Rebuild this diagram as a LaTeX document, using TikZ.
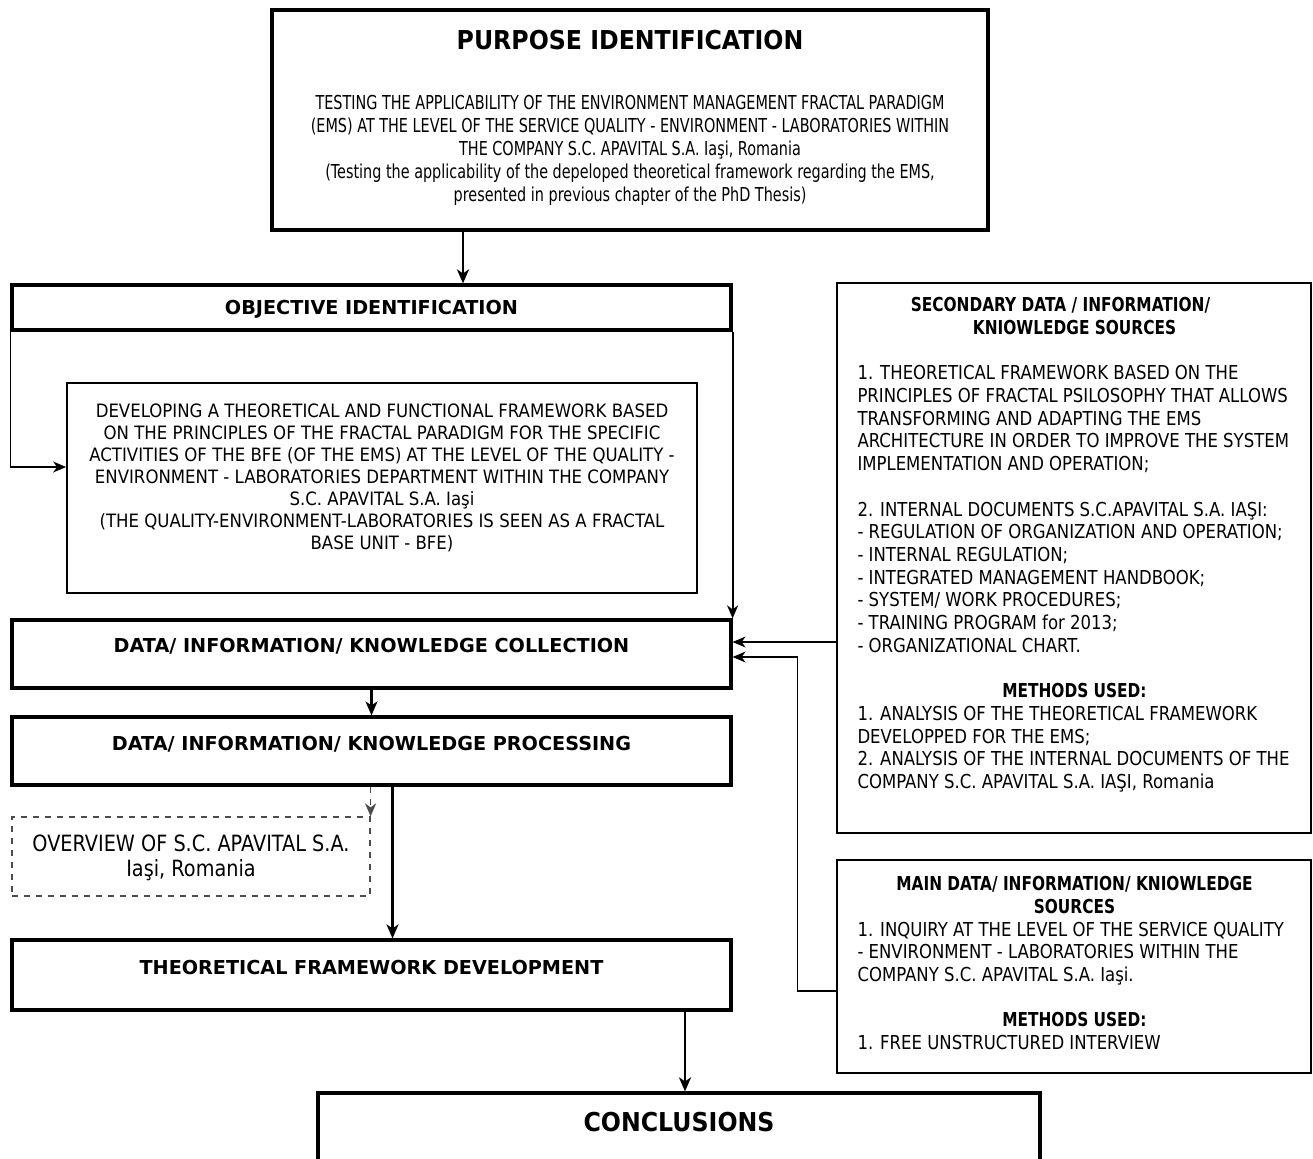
\documentclass[tikz,border=0pt]{standalone}
\usepackage{fontspec}
\setmainfont{DejaVu Sans}
\newfontfamily\purposefont[FakeStretch=0.75]{DejaVu Sans}
\newfontfamily\narrowfont[FakeStretch=0.86]{DejaVu Sans}
\newfontfamily\goalfont[FakeStretch=0.9]{DejaVu Sans}
\newfontfamily\headfont[FakeStretch=0.8]{DejaVu Sans}
\newfontfamily\bigfont[FakeStretch=0.91]{DejaVu Sans}
\usetikzlibrary{positioning,arrows.meta,fit}

\begin{document}
\begin{tikzpicture}[x=0.5pt,y=-0.5pt,
  font=\narrowfont\fontsize{9.6}{11.35}\selectfont,
  stagebox/.style={draw,line width=1.6pt,inner sep=0pt},
  thinbox/.style={draw,line width=0.9pt,inner sep=0pt},
  srcbox/.style={draw,line width=0.9pt,inner sep=0pt},
  boxtitle/.style={font=\fontsize{9.6}{11}\selectfont\bfseries},
  bigtitle/.style={font=\bigfont\fontsize{13}{15}\selectfont\bfseries},
  texte/.style={align=center,inner sep=0pt},
  flow/.style={-{Stealth[length=7pt,width=6pt,inset=2pt]},line width=1.4pt},
  link/.style={-{Stealth[length=6.5pt,width=5.5pt,inset=2pt]},line width=0.8pt}]
\useasboundingbox[fill=white] (0,0) rectangle (1313,1158);
% left column
\node[stagebox,fit={(272,10) (988,230)}] (purpose) {};
\node[bigtitle] at ([yshift=-16pt]purpose.north) {PURPOSE IDENTIFICATION};
\node[texte,font=\purposefont\fontsize{9.6}{11.5}\selectfont] at ([yshift=-71pt]purpose.north) {TESTING THE APPLICABILITY OF THE ENVIRONMENT MANAGEMENT FRACTAL PARADIGM\\(EMS) AT THE LEVEL OF THE SERVICE QUALITY - ENVIRONMENT - LABORATORIES WITHIN\\THE COMPANY S.C. APAVITAL S.A. Iaşi, Romania\\(Testing the applicability of the depeloped theoretical framework regarding the EMS,\\presented in previous chapter of the PhD Thesis)};
\node[stagebox,fit={(12,285) (731,330)}] (objective) {};
\node[boxtitle] at ([yshift=-1pt]objective.center) {OBJECTIVE IDENTIFICATION};
\node[thinbox,fit={(67,383) (697,593)}] (goal) {};
\node[texte,font=\goalfont\fontsize{9.2}{11}\selectfont] at ([yshift=-48pt]goal.north) {DEVELOPING A THEORETICAL AND FUNCTIONAL FRAMEWORK BASED\\ON THE PRINCIPLES OF THE FRACTAL PARADIGM FOR THE SPECIFIC\\ACTIVITIES OF THE BFE (OF THE EMS) AT THE LEVEL OF THE QUALITY -\\ENVIRONMENT - LABORATORIES DEPARTMENT WITHIN THE COMPANY\\S.C. APAVITAL S.A. Iaşi\\(THE QUALITY-ENVIRONMENT-LABORATORIES IS SEEN AS A FRACTAL\\BASE UNIT - BFE)};
\node[stagebox,fit={(12,620) (731,688)}] (collect) {};
\node[boxtitle] at ([yshift=-14pt]collect.north) {DATA/ INFORMATION/ KNOWLEDGE COLLECTION};
\node[stagebox,fit={(12,717) (731,785)}] (process) {};
\node[boxtitle] at ([yshift=-14.5pt]process.north) {DATA/ INFORMATION/ KNOWLEDGE PROCESSING};
\node[draw=black!70,dashed,line width=0.6pt,inner sep=0pt,fit={(12,817) (370,896)}] (overview) {};
\node[texte,font=\narrowfont\fontsize{11.2}{12.5}\selectfont] at ([yshift=-20.75pt]overview.north) {OVERVIEW OF S.C. APAVITAL S.A.\\Iaşi, Romania};
\node[stagebox,fit={(12,940) (731,1010)}] (theory) {};
\node[boxtitle] at ([yshift=-14.5pt]theory.north) {THEORETICAL FRAMEWORK DEVELOPMENT};
\node[stagebox,fit={(318,1093) (1040,1180)}] (concl) {};
\node[bigtitle] at ([yshift=-15.5pt]concl.north) {CONCLUSIONS};
% sources on the right
\node[srcbox,fit={(837,283) (1311,833)}] (second) {};
\node[anchor=north west,align=left,inner sep=0pt] at ([xshift=10.5pt,yshift=-7.5pt]second.north west) {\makebox[217pt]{\headfont\bfseries SECONDARY DATA / INFORMATION/\hspace*{14pt}}\\
\makebox[217pt]{\headfont\bfseries KNIOWLEDGE SOURCES}\\[11.35pt]
1. THEORETICAL FRAMEWORK BASED ON THE\\
PRINCIPLES OF FRACTAL PSILOSOPHY THAT ALLOWS\\
TRANSFORMING AND ADAPTING THE EMS\\
ARCHITECTURE IN ORDER TO IMPROVE THE SYSTEM\\
IMPLEMENTATION AND OPERATION;\\[11.35pt]
2. INTERNAL DOCUMENTS S.C.APAVITAL S.A. IAŞI:\\
- REGULATION OF ORGANIZATION AND OPERATION;\\
- INTERNAL REGULATION;\\
- INTEGRATED MANAGEMENT HANDBOOK;\\
- SYSTEM/ WORK PROCEDURES;\\
- TRAINING PROGRAM for 2013;\\
- ORGANIZATIONAL CHART.\\[11.35pt]
\makebox[217pt]{\headfont\bfseries METHODS USED:}\\
1. ANALYSIS OF THE THEORETICAL FRAMEWORK\\
DEVELOPPED FOR THE EMS;\\
2. ANALYSIS OF THE INTERNAL DOCUMENTS OF THE\\
COMPANY S.C. APAVITAL S.A. IAŞI, Romania};
\node[srcbox,fit={(837,860) (1311,1073)}] (primary) {};
\node[anchor=north west,align=left,inner sep=0pt] at ([xshift=10.5pt,yshift=-8.5pt]primary.north west) {\makebox[217pt]{\headfont\bfseries MAIN DATA/ INFORMATION/ KNIOWLEDGE}\\
\makebox[217pt]{\headfont\bfseries SOURCES}\\
1. INQUIRY AT THE LEVEL OF THE SERVICE QUALITY\\
- ENVIRONMENT - LABORATORIES WITHIN THE\\
COMPANY S.C. APAVITAL S.A. Iaşi.\\[11.35pt]
\makebox[217pt]{\headfont\bfseries METHODS USED:}\\
1. FREE UNSTRUCTURED INTERVIEW};
% connectors
\coordinate (p1) at ([xshift=-83.5pt]purpose.south);
\draw[flow] (p1) -- (p1 |- objective.north);
\draw[link] (objective.south west) |- ([yshift=10.5pt]goal.west);
\draw[link,line width=1pt] (objective.south east) -- (collect.north east);
\coordinate (in1) at ([yshift=6pt]collect.east);
\draw[link] (in1 -| second.west) -- (in1);
\coordinate (in2) at ([yshift=-1.5pt]collect.east);
\draw[link] ([yshift=-12.25pt]primary.west) -| ([xshift=32.5pt]in2) -- (in2);
\draw[flow] (collect.south) -- (process.north);
\draw[link,dashed,draw=black!70] (process.south -| overview.north east) -- (overview.north east);
\coordinate (p2) at ([xshift=10.5pt]process.south);
\draw[flow] (p2) -- (p2 |- theory.north);
\coordinate (p3) at ([xshift=3pt]concl.north);
\draw[flow] (p3 |- theory.south) -- (p3);
\end{tikzpicture}
\end{document}
